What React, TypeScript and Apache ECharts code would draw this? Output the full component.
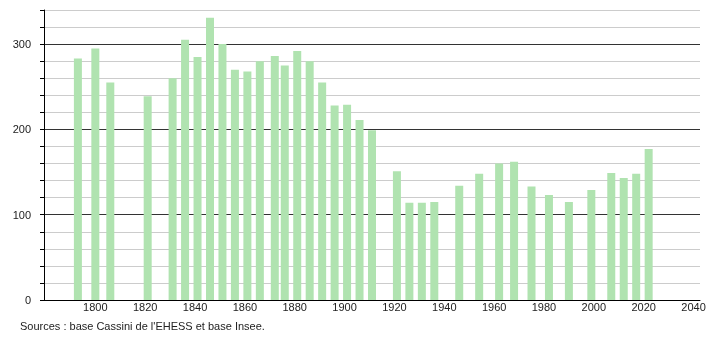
import React, { useEffect, useRef } from "react";
import * as echarts from "echarts";

const years = [1793, 1800, 1806, 1821, 1831, 1836, 1841, 1846, 1851, 1856, 1861, 1866, 1872, 1876, 1881, 1886, 1891, 1896, 1901, 1906, 1911, 1921, 1926, 1931, 1936, 1946, 1954, 1962, 1968, 1975, 1982, 1990, 1999, 2007, 2012, 2017, 2022];
const population = [283, 295, 255, 239, 260, 305, 285, 331, 300, 270, 268, 280, 286, 275, 292, 280, 255, 228, 229, 211, 199, 151, 114, 114, 115, 134, 148, 160, 162, 133, 123, 115, 129, 149, 143, 148, 177];
const xTickLabels = [1800, 1820, 1840, 1860, 1880, 1900, 1920, 1940, 1960, 1980, 2000, 2020, 2040];
const yTickLabels = [0, 100, 200, 300];
const sourceText = "Sources : base Cassini de l'EHESS et base Insee.";

export default function App() {
  const ref = useRef<HTMLDivElement>(null);
  useEffect(() => {
    if (!ref.current) return;
    const chart = echarts.init(ref.current, null, { renderer: "svg" });
    chart.setOption({
      animation: false,
      textStyle: { fontFamily: "Liberation Sans, Arial, sans-serif" },
      grid: { left: 44, right: 10, top: 10, bottom: 40 },
      xAxis: {
        type: "value",
        min: 1779.4,
        max: 2042.6,
        axisLine: { show: true, onZero: false, lineStyle: { color: "#000", width: 1 } },
        axisTick: { show: false },
        splitLine: { show: false },
        axisLabel: {
          customValues: xTickLabels,
          fontSize: 11,
          color: "#222",
          margin: 1,
          formatter: (v: number) => String(v),
        },
      },
      yAxis: {
        type: "value",
        min: 0,
        max: 340,
        interval: 20,
        axisLine: { show: true, lineStyle: { color: "#000", width: 1 } },
        axisTick: { show: true, length: 4, lineStyle: { color: "#000" } },
        axisLabel: {
          fontSize: 11,
          color: "#222",
          margin: 13,
          formatter: (v: number) => (yTickLabels.includes(v) ? String(v) : ""),
        },
        splitLine: {
          show: true,
          lineStyle: { color: ["#333", "#cccccc", "#cccccc", "#cccccc", "#cccccc"], width: 1 },
        },
      },
      series: [
        {
          type: "bar",
          data: years.map((y, i) => [y, population[i]]),
          barWidth: 8,
          itemStyle: { color: "#b0e3b0" },
        },
      ],
      graphic: [
        {
          type: "text",
          left: 20,
          top: 320,
          style: { text: sourceText, fontSize: 11, fill: "#222", fontFamily: "Liberation Sans, Arial, sans-serif" },
        },
      ],
    });
    return () => chart.dispose();
  }, []);
  return <div ref={ref} style={{ position: "fixed", left: 0, top: 0, width: 710, height: 340 }} />;
}
